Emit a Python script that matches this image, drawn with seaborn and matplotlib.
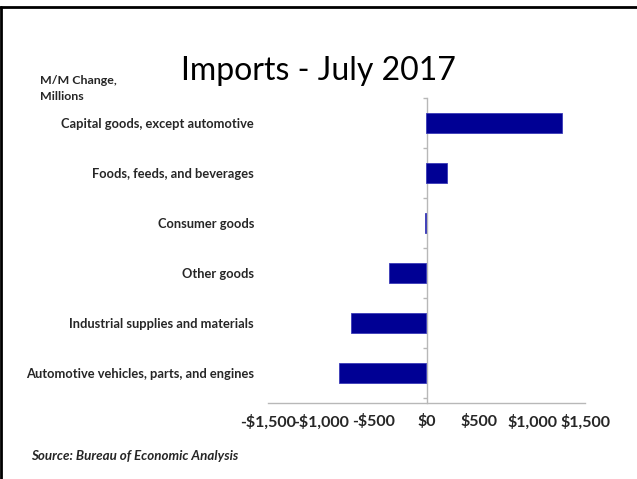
import matplotlib
matplotlib.use("Agg")
import matplotlib.pyplot as plt
import seaborn as sns
import pandas as pd
from matplotlib.ticker import FuncFormatter

categories = [
    "Capital goods, except automotive",
    "Foods, feeds, and beverages",
    "Consumer goods",
    "Other goods",
    "Industrial supplies and materials",
    "Automotive vehicles, parts, and engines",
]
values = [1281, 196, -15, -358, -715, -832]
xticks = [-1500, -1000, -500, 0, 500, 1000, 1500]

df = pd.DataFrame({"category": categories, "value": values})

sns.set_theme(style="white")
plt.rcParams["font.family"] = ["Lato", "DejaVu Sans"]

GRAY = "#b8b8b8"
fig = plt.figure(figsize=(6.37, 4.79), dpi=100)
ax = fig.add_axes([268 / 637, 1 - 403 / 479, 317 / 637, 305.5 / 479])

sns.barplot(data=df, x="value", y="category", orient="h", color="#000094",
            width=0.4, saturation=1, ax=ax, edgecolor="#3a3ab8", linewidth=0.6)

ax.set_xlim(-1500, 1500)
ax.set_ylim(len(categories) - 0.4, -0.5)
ax.set_xticks(xticks)
ax.xaxis.set_major_formatter(FuncFormatter(
    lambda v, p: ("-$" if v < 0 else "$") + f"{abs(int(v)):,}"))
ax.tick_params(axis="x", direction="in", length=6, width=1, color=GRAY,
               pad=8, labelsize=11.5)
for lab in ax.get_xticklabels():
    lab.set_fontweight("bold")
ax.set_xlabel("")
ax.set_ylabel("")

ax.tick_params(axis="y", length=0, pad=10, labelsize=9.3)
for lab in ax.get_yticklabels():
    lab.set_fontweight("bold")

for s in ["top", "right", "left"]:
    ax.spines[s].set_visible(False)
ax.spines["bottom"].set_color(GRAY)
ax.spines["bottom"].set_linewidth(1)

# zero line axis with category boundary ticks
sec = ax.secondary_yaxis(0.5)
sec.set_alignment("left")
sec.set_yticks([i - 0.5 for i in range(len(categories) + 1)])
sec.set_yticklabels([])
sec.tick_params(direction="out", length=3, width=1, color=GRAY)
for sp in sec.spines.values():
    sp.set_color(GRAY)
    sp.set_linewidth(1)

fig.text(318 / 637, 1 - 71 / 479, "Imports - July 2017", ha="center",
         va="center", fontsize=23, color="black")
fig.text(40 / 637, 1 - 80 / 479, "M/M Change,", ha="left", va="center",
         fontsize=8.9, fontweight="bold")
fig.text(40 / 637, 1 - 96 / 479, "Millions", ha="left", va="center",
         fontsize=8.9, fontweight="bold")
fig.text(31 / 637, 1 - 456 / 479, "Source: Bureau of Economic Analysis",
         ha="left", va="center", fontsize=9.6, fontweight="bold", style="italic")

# frame lines
fig.add_artist(plt.Line2D([0, 1], [1 - 7 / 479, 1 - 7 / 479],
                          transform=fig.transFigure, color="black", lw=2))
fig.add_artist(plt.Line2D([1 / 637, 1 / 637], [0, 1 - 7 / 479],
                          transform=fig.transFigure, color="black", lw=2))

fig.savefig("out.png", dpi=100)
